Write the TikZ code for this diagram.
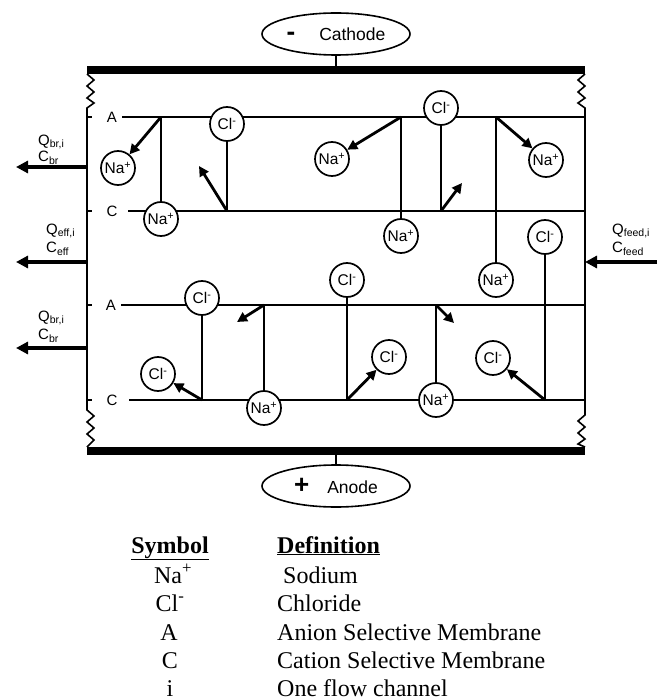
\documentclass[tikz,border=0pt]{standalone}
\usepackage{fontspec}
\setmainfont{Liberation Serif}
\newfontfamily\dsans{Liberation Sans}
\usetikzlibrary{arrows.meta,shapes.geometric}
\pgfdeclarelayer{bg}
\pgfsetlayers{bg,main}
\begin{document}
\begin{tikzpicture}[x=1pt,y=-1pt,
  memb/.style={line width=1.8pt},
  wire/.style={line width=1.6pt},
  ion/.style={circle,draw,fill=white,line width=1.7pt,minimum size=34pt,inner sep=0pt,font=\dsans\fontsize{15.5}{15.5}\selectfont},
  iarr/.style={line width=2.8pt,-{Triangle[length=10pt,width=10pt]}},
  farr/.style={line width=3.5pt,-{Triangle[length=12pt,width=12pt]}},
  lab/.style={font=\dsans\fontsize{15}{15}\selectfont,inner sep=0pt},
  qlab/.style={font=\dsans\fontsize{15}{15}\selectfont,anchor=west,inner sep=0pt},
  elec/.style={ellipse,draw,line width=1.6pt,minimum width=148pt,minimum height=42pt,inner sep=0pt,font=\dsans\fontsize{17.5}{17.5}\selectfont},
  leg/.style={font=\fontsize{24}{24}\selectfont,inner sep=0pt,anchor=base},
  legl/.style={font=\fontsize{24}{24}\selectfont,inner sep=0pt,anchor=base west},
]
\useasboundingbox (0,0) rectangle (662,700);

% ---- coordinates
\coordinate (bTL) at (87,70);  \coordinate (bTR) at (585,70);
\coordinate (bBL) at (87,451); \coordinate (bBR) at (585,451);

\coordinate (j1) at (161,117);
\coordinate (j2) at (227,211);
\coordinate (j3) at (401,117);
\coordinate (j4) at (441,211);
\coordinate (j5) at (496,117);
\coordinate (j6) at (545,400);
\coordinate (j7) at (202,400);
\coordinate (j8) at (264,305);
\coordinate (j9) at (347,400);
\coordinate (j10) at (436,305);
\coordinate (t2) at (199,166);
\coordinate (t4) at (462,183);
\coordinate (t8) at (237,322);
\coordinate (t10) at (454,323);

\coordinate (o1) at (87,167);  \coordinate (o1e) at (16,167);
\coordinate (o2) at (87,262);  \coordinate (o2e) at (16,262);
\coordinate (o3) at (87,348);  \coordinate (o3e) at (16,348);
\coordinate (f0) at (657,262); \coordinate (f1) at (585,262);

% ---- background: membranes, bars, borders
\begin{pgfonlayer}{bg}
  \draw[line width=8pt] (bTL) -- (bTR);
  \draw[line width=8pt] (bBL) -- (bBR);
  \draw[wire,line join=miter] (87,74) -- (94,80) -- (87,86) -- (94,92) -- (87,98) -- (94,103) -- (87,108)
        -- (87,410) -- (94,416) -- (87,422) -- (94,428) -- (87,434) -- (94,440) -- (87,447);
  \draw[wire,line join=miter] (585,74) -- (578,80) -- (585,86) -- (578,92) -- (585,98) -- (578,103) -- (585,108)
        -- (585,415) -- (578,421) -- (585,427) -- (578,433) -- (585,439) -- (578,444) -- (585,447);
  % membranes
  \draw[memb] (87,117) -- (92,117);  \draw[memb] (122,117) -- (585,117);
  \draw[memb] (87,211) -- (92,211);  \draw[memb] (128,211) -- (585,211);
  \draw[memb] (87,305) -- (92,305);  \draw[memb] (121,305) -- (585,305);
  \draw[memb] (87,400) -- (92,400);  \draw[memb] (129,400) -- (585,400);
\end{pgfonlayer}

\node[lab] (lA1) at (112,117) {A};
\node[lab] (lC1) at (112,211) {C};
\node[lab] (lA2) at (111,305) {A};
\node[lab] (lC2) at (112,400) {C};

% ---- ions
\node[ion] (na1) at (118,168) {Na\textsuperscript{+}};
\node[ion] (na2) at (161,219) {Na\textsuperscript{+}};
\node[ion] (cl1) at (227,124) {Cl\textsuperscript{-}};
\node[ion] (na3) at (332,159) {Na\textsuperscript{+}};
\node[ion] (na4) at (401,236) {Na\textsuperscript{+}};
\node[ion] (cl2) at (441,108) {Cl\textsuperscript{-}};
\node[ion] (na5) at (546,160) {Na\textsuperscript{+}};
\node[ion] (na6) at (496,280) {Na\textsuperscript{+}};
\node[ion] (cl3) at (545,237) {Cl\textsuperscript{-}};
\node[ion] (cl4) at (202,298) {Cl\textsuperscript{-}};
\node[ion] (cl5) at (158,374) {Cl\textsuperscript{-}};
\node[ion] (na7) at (264,408) {Na\textsuperscript{+}};
\node[ion] (cl6) at (347,280) {Cl\textsuperscript{-}};
\node[ion] (cl7) at (389,357) {Cl\textsuperscript{-}};
\node[ion] (na8) at (436,400) {Na\textsuperscript{+}};
\node[ion] (cl8) at (493,358) {Cl\textsuperscript{-}};

% ---- vertical links
\draw[wire] (j1) -- (na2);
\draw[wire] (cl1) -- (j2);
\draw[wire] (j3) -- (na4);
\draw[wire] (cl2) -- (j4);
\draw[wire] (j5) -- (na6);
\draw[wire] (cl3) -- (j6);
\draw[wire] (cl4) -- (j7);
\draw[wire] (j8) -- (na7);
\draw[wire] (cl6) -- (j9);
\draw[wire] (j10) -- (na8);

% ---- ion arrows
\draw[iarr] (j1) -- (na1);
\draw[iarr] (j2) -- (t2);
\draw[iarr] (j3) -- (na3);
\draw[iarr] (j4) -- (t4);
\draw[iarr] (j5) -- (na5);
\draw[iarr] (j6) -- (cl8);
\draw[iarr] (j7) -- (cl5);
\draw[iarr] (j8) -- (t8);
\draw[iarr] (j9) -- (cl7);
\draw[iarr] (j10) -- (t10);

% ---- flow arrows
\draw[farr] (o1) -- (o1e);
\draw[farr] (o2) -- (o2e);
\draw[farr] (o3) -- (o3e);
\draw[farr] (f0) -- (f1);

\node[qlab] (q1) at (38,142) {Q\textsubscript{br,i}};
\node[qlab] (c1) at (38,158) {C\textsubscript{br}};
\node[qlab] (q2) at (46,231) {Q\textsubscript{eff,i}};
\node[qlab] (c2) at (46,249) {C\textsubscript{eff}};
\node[qlab] (q3) at (38,318) {Q\textsubscript{br,i}};
\node[qlab] (c3) at (38,336) {C\textsubscript{br}};
\node[qlab] (q4) at (612,231) {Q\textsubscript{feed,i}};
\node[qlab] (c4) at (612,249) {C\textsubscript{feed}};

% ---- electrodes
\node[elec] (cath) at (336,34) {{\bfseries\fontsize{26}{26}\selectfont -}\hspace{24pt}Cathode};
\node[elec] (anod) at (336,486) {{\bfseries\fontsize{26}{26}\selectfont +}\hspace{18pt}Anode};
\draw[wire] (cath.south) -- (cath.south |- bTL);
\draw[wire] (anod.north) -- (anod.north |- bBL);

% ---- legend
\node[leg] (sym) at (170,553) {\underline{\textbf{Symbol}}};
\node[legl] (def) at (277,553) {\underline{\textbf{Definition}}};
\node[leg] (s1) at (173,583) {Na\textsuperscript{+}};
\node[legl] (d1) at (283,583) {Sodium};
\node[leg] (s2) at (170,611) {Cl\textsuperscript{-}};
\node[legl] (d2) at (277,611) {Chloride};
\node[leg] (s3) at (169,640) {A};
\node[legl] (d3) at (277,640) {Anion Selective Membrane};
\node[leg] (s4) at (170,668) {C};
\node[legl] (d4) at (277,668) {Cation Selective Membrane};
\node[leg] (s5) at (170,696) {i};
\node[legl] (d5) at (277,696) {One flow channel};
\end{tikzpicture}
\end{document}
